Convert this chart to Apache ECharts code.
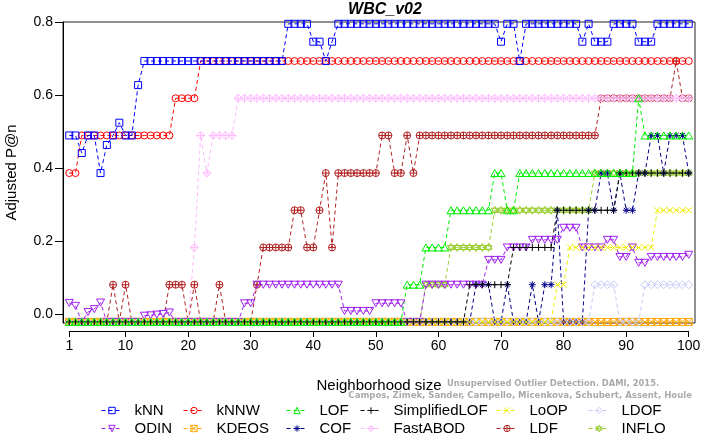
<!DOCTYPE html>
<html><head><meta charset="utf-8">
<script src="https://cdn.jsdelivr.net/npm/echarts@6/dist/echarts.min.js"></script>
<style>html,body{margin:0;padding:0;background:#fff}#c{width:702px;height:434px}</style>
</head><body><div id="c"></div>
<script>
const neighborhood = [1,2,3,4,5,6,7,8,9,10,11,12,13,14,15,16,17,18,19,20,21,22,23,24,25,26,27,28,29,30,
31,32,33,34,35,36,37,38,39,40,41,42,43,44,45,46,47,48,49,50,51,52,53,54,55,56,57,58,59,60,
61,62,63,64,65,66,67,68,69,70,71,72,73,74,75,76,77,78,79,80,81,82,83,84,85,86,87,88,89,90,
91,92,93,94,95,96,97,98,99,100];
const xTicks = [1,10,20,30,40,50,60,70,80,90,100];
const yTicks = [0,0.2,0.4,0.6,0.8];

const kNN = [.489,.489,.441,.489,.489,.386,.463,.489,.524,.489,
.489,.627,.693,.693,.693,.693,.693,.693,.693,.693,
.693,.693,.693,.693,.693,.693,.693,.693,.693,.693,
.693,.693,.693,.693,.693,.795,.795,.795,.795,.746,
.746,.693,.746,.795,.795,.795,.795,.795,.795,.795,
.795,.795,.795,.795,.795,.795,.795,.795,.795,.795,
.795,.795,.795,.795,.795,.795,.795,.795,.795,.746,
.795,.795,.693,.795,.795,.795,.795,.795,.795,.795,
.795,.795,.746,.795,.746,.746,.746,.795,.795,.795,
.795,.746,.746,.746,.795,.795,.795,.795,.795,.795];
const kNNW = [.386,.386,.489,.489,.489,.489,.489,.489,.489,.489,
.489,.489,.489,.489,.489,.489,.489,.591,.591,.591,
.591,.693,.693,.693,.693,.693,.693,.693,.693,.693,
.693,.693,.693,.693,.693,.693,.693,.693,.693,.693,
.693,.693,.693,.693,.693,.693,.693,.693,.693,.693,
.693,.693,.693,.693,.693,.693,.693,.693,.693,.693,
.693,.693,.693,.693,.693,.693,.693,.693,.693,.693,
.693,.693,.693,.693,.693,.693,.693,.693,.693,.693,
.693,.693,.693,.693,.693,.693,.693,.693,.693,.693,
.693,.693,.693,.693,.693,.693,.693,.693,.693,.693];
const LOF = [-.022,-.022,-.022,-.022,-.022,-.022,-.022,-.022,-.022,-.022,
-.022,-.022,-.022,-.022,-.022,-.022,-.022,-.022,-.022,-.022,
-.022,-.022,-.022,-.022,-.022,-.022,-.022,-.022,-.022,-.022,
-.022,-.022,-.022,-.022,-.022,-.022,-.022,-.022,-.022,-.022,
-.022,-.022,-.022,-.022,-.022,-.022,-.022,-.022,-.022,-.022,
-.022,-.022,-.022,-.022,.080,.080,.080,.182,.182,.182,
.182,.284,.284,.284,.284,.284,.284,.284,.386,.386,
.284,.284,.386,.386,.386,.386,.386,.386,.386,.386,
.386,.386,.386,.386,.386,.386,.386,.386,.386,.386,
.386,.591,.489,.489,.489,.489,.489,.489,.489,.489];
const SimplifiedLOF = [-.022,-.022,-.022,-.022,-.022,-.022,-.022,-.022,-.022,-.022,
-.022,-.022,-.022,-.022,-.022,-.022,-.022,-.022,-.022,-.022,
-.022,-.022,-.022,-.022,-.022,-.022,-.022,-.022,-.022,-.022,
-.022,-.022,-.022,-.022,-.022,-.022,-.022,-.022,-.022,-.022,
-.022,-.022,-.022,-.022,-.022,-.022,-.022,-.022,-.022,-.022,
-.022,-.022,-.022,-.022,-.022,-.022,-.022,-.022,-.022,-.022,
-.022,-.022,-.022,-.022,.080,.080,.080,.080,.080,.080,
.080,.182,.182,.182,.182,.182,.182,.182,.284,.284,
.284,.284,.284,.284,.284,.284,.284,.284,.386,.386,
.386,.386,.386,.386,.386,.386,.386,.386,.386,.386];
const LoOP = [-.022,-.022,-.022,-.022,-.022,-.022,-.022,-.022,-.022,-.022,
-.022,-.022,-.022,-.022,-.022,-.022,-.022,-.022,-.022,-.022,
-.022,-.022,-.022,-.022,-.022,-.022,-.022,-.022,-.022,-.022,
-.022,-.022,-.022,-.022,-.022,-.022,-.022,-.022,-.022,-.022,
-.022,-.022,-.022,-.022,-.022,-.022,-.022,-.022,-.022,-.022,
-.022,-.022,-.022,-.022,-.022,-.022,-.022,-.022,-.022,-.022,
-.022,-.022,-.022,-.022,-.022,-.022,-.022,-.022,-.022,-.022,
-.022,-.022,-.022,-.022,-.022,-.022,-.022,-.022,.080,.080,
.182,.182,.182,.182,.182,.182,.182,.182,.182,.182,
.182,.182,.182,.182,.284,.284,.284,.284,.284,.284];
const LDOF = [-.022,-.022,-.022,-.022,-.022,-.022,-.022,-.022,-.022,-.022,
-.022,-.022,-.022,-.022,-.022,-.022,-.022,-.022,-.022,-.022,
-.022,-.022,-.022,-.022,-.022,-.022,-.022,-.022,-.022,-.022,
-.022,-.022,-.022,-.022,-.022,-.022,-.022,-.022,-.022,-.022,
-.022,-.022,-.022,-.022,-.022,-.022,-.022,-.022,-.022,-.022,
-.022,-.022,-.022,-.022,-.022,-.022,-.022,-.022,-.022,-.022,
-.022,-.022,-.022,-.022,-.022,-.022,-.022,-.022,-.022,-.022,
-.022,-.022,-.022,-.022,-.022,-.022,-.022,-.022,-.022,-.022,
-.022,-.022,-.022,-.022,.080,.080,.080,.080,-.022,-.022,
-.022,-.022,.080,.080,.080,.080,.080,.080,.080,.080];
const ODIN = [.030,.022,-.022,.005,.013,.031,-.022,-.022,-.022,-.022,
-.022,-.022,-.005,-.004,-.002,.000,.004,-.022,-.022,-.022,
-.022,-.022,-.022,-.022,-.022,-.022,-.022,-.022,.029,.029,
.080,.080,.080,.080,.080,.080,.080,.080,.080,.080,
.080,.080,.080,.080,.008,.008,.008,.008,.008,.029,
.029,.029,.029,.029,-.022,-.022,-.022,.080,.080,.080,
.080,.080,.080,.080,.080,.080,.080,.148,.148,.148,
.182,.182,.182,.182,.203,.203,.203,.203,.203,.236,
.236,.236,.182,.182,.182,.182,.203,.203,.156,.156,
.182,.140,.140,.156,.156,.156,.156,.156,.156,.162];
const KDEOS = [-.022,-.022,-.022,-.022,-.022,-.022,-.022,-.022,-.022,-.022,
-.022,-.022,-.022,-.022,-.022,-.022,-.022,-.022,-.022,-.022,
-.022,-.022,-.022,-.022,-.022,-.022,-.022,-.022,-.022,-.022,
-.022,-.022,-.022,-.022,-.022,-.022,-.022,-.022,-.022,-.022,
-.022,-.022,-.022,-.022,-.022,-.022,-.022,-.022,-.022,-.022,
-.022,-.022,-.022,-.022,-.022,-.022,-.022,-.022,-.022,-.022,
-.022,-.022,-.022,-.022,-.022,-.022,-.022,-.022,-.022,-.022,
-.022,-.022,-.022,-.022,-.022,-.022,-.022,-.022,-.022,-.022,
-.022,-.022,-.022,-.022,-.022,-.022,-.022,-.022,-.022,-.022,
-.022,-.022,-.022,-.022,-.022,-.022,-.022,-.022,-.022,-.022];
const COF = [-.022,-.022,-.022,-.022,-.022,-.022,-.022,-.022,-.022,-.022,
-.022,-.022,-.022,-.022,-.022,-.022,-.022,-.022,-.022,-.022,
-.022,-.022,-.022,-.022,-.022,-.022,-.022,-.022,-.022,-.022,
-.022,-.022,-.022,-.022,-.022,-.022,-.022,-.022,-.022,-.022,
-.022,-.022,-.022,-.022,-.022,-.022,-.022,-.022,-.022,-.022,
-.022,-.022,-.022,-.022,-.022,-.022,-.022,-.022,-.022,-.022,
-.022,-.022,-.022,-.022,-.022,.080,.080,.080,-.022,-.022,
.080,-.022,-.022,-.022,.080,-.022,.080,.080,.284,-.022,
-.022,-.022,-.022,.284,.284,.386,.386,.284,.386,.284,
.284,.386,.386,.489,.489,.386,.489,.489,.489,.386];
const FastABOD = [-.022,-.022,-.022,-.022,-.022,-.022,-.022,-.022,-.022,-.022,
-.022,-.022,-.022,-.022,-.022,-.022,-.022,-.022,-.022,-.022,
.182,.489,.386,.489,.489,.489,.489,.591,.591,.591,
.591,.591,.591,.591,.591,.591,.591,.591,.591,.591,
.591,.591,.591,.591,.591,.591,.591,.591,.591,.591,
.591,.591,.591,.591,.591,.591,.591,.591,.591,.591,
.591,.591,.591,.591,.591,.591,.591,.591,.591,.591,
.591,.591,.591,.591,.591,.591,.591,.591,.591,.591,
.591,.591,.591,.591,.591,.591,.591,.591,.591,.591,
.591,.591,.591,.591,.591,.591,.591,.591,.591,.591];
const LDF = [-.022,-.022,-.022,-.022,-.022,-.022,-.022,.080,-.022,.080,
-.022,-.022,-.022,-.022,-.022,-.022,.080,.080,.080,-.022,
.080,-.022,-.022,-.022,.080,-.022,-.022,-.022,-.022,-.022,
.080,.182,.182,.182,.182,.182,.284,.284,.182,.182,
.284,.386,.182,.386,.386,.386,.386,.386,.386,.386,
.489,.489,.386,.386,.489,.386,.489,.489,.489,.489,
.489,.489,.489,.489,.489,.489,.489,.489,.489,.489,
.489,.489,.489,.489,.489,.489,.489,.489,.489,.489,
.489,.489,.489,.489,.489,.591,.591,.591,.591,.591,
.591,.591,.591,.591,.591,.591,.591,.693,.591,.591];
const INFLO = [-.022,-.022,-.022,-.022,-.022,-.022,-.022,-.022,-.022,-.022,
-.022,-.022,-.022,-.022,-.022,-.022,-.022,-.022,-.022,-.022,
-.022,-.022,-.022,-.022,-.022,-.022,-.022,-.022,-.022,-.022,
-.022,-.022,-.022,-.022,-.022,-.022,-.022,-.022,-.022,-.022,
-.022,-.022,-.022,-.022,-.022,-.022,-.022,-.022,-.022,-.022,
-.022,-.022,-.022,-.022,-.022,-.022,-.022,.080,.080,.080,
.080,.182,.182,.182,.182,.182,.182,.182,.284,.284,
.284,.284,.284,.284,.284,.284,.284,.284,.284,.284,
.284,.284,.284,.284,.386,.386,.386,.386,.386,.386,
.386,.386,.386,.386,.386,.386,.386,.386,.386,.386];

const methodNames = ['kNN','kNNW','LOF','SimplifiedLOF','LoOP','LDOF','ODIN','KDEOS','COF','FastABOD','LDF','INFLO'];
const methodValues = [kNN,kNNW,LOF,SimplifiedLOF,LoOP,LDOF,ODIN,KDEOS,COF,FastABOD,LDF,INFLO];
const methodColors = ['#0000ff','#ff0000','#00ee00','#000000','#eeee00','#c8c8f8','#a020f0','#ffa500','#00008b','#ffbbff','#b22222','#9acd32'];

const circ = 'M8,4A4,4,0,1,1,0,4A4,4,0,1,1,8,4Z';
const methodSymbols = [
  'path://M0,0H7V7H0Z',
  'path://' + circ,
  'path://M4,0L8,7L0,7Z',
  'path://M4,0V8M0,4H8',
  'path://M0,0L7,7M7,0L0,7',
  'path://M4,0L8,4L4,8L0,4Z',
  'path://M0,0H8L4,7Z',
  'path://M0,0H7V7H0ZM0,0L7,7M7,0L0,7',
  'path://M4,0V8M0,4H8M1.2,1.2L6.8,6.8M6.8,1.2L1.2,6.8',
  'path://M4,0L8,4L4,8L0,4ZM4,0V8M0,4H8',
  'path://' + circ + 'M4,0V8M0,4H8',
  'path://M4,0L7.5,6H0.5ZM4,8L0.5,2H7.5Z'
];
const methodSizes = [7,7,8,7,6,8,8,7,7,8,7,8];

const legendCols = [['kNN','ODIN'],['kNNW','KDEOS'],['LOF','COF'],['SimplifiedLOF','FastABOD'],['LoOP','LDF'],['LDOF','INFLO']];
const legendLeft = [101,183,286,360,496,588];
const legendTop = [403,421];

const series = [];
for (let i = methodNames.length - 1; i >= 0; i--) {
  const c = methodColors[i];
  series.push({
    name: methodNames[i], type: 'line', xAxisIndex: 0, yAxisIndex: 0,
    data: neighborhood.map((k, j) => [k, methodValues[i][j]]),
    symbol: methodSymbols[i], symbolSize: methodSizes[i], symbolKeepAspect: true,
    showAllSymbol: true, clip: false,
    lineStyle: { color: c, width: 1, type: [4, 3] },
    itemStyle: { color: 'none', borderColor: c, borderWidth: 1 },
    emphasis: { disabled: true }, animation: false
  });
}

const legends = [];
legendCols.forEach((col, ci) => col.forEach((n, ri) => {
  const c = methodColors[methodNames.indexOf(n)];
  legends.push({
    data: [n],
    itemStyle: { color: 'rgba(0,0,0,0)', borderColor: c, borderWidth: 1 },
    lineStyle: { color: c, width: 1, type: [4, 3] },
    left: legendLeft[ci], top: legendTop[ri], itemWidth: 21, itemHeight: 8,
    selectedMode: false, padding: 0,
    textStyle: { fontSize: 15, fontFamily: 'Liberation Sans', color: '#000', padding: [0,0,0,7] }
  });
}));

const chart = echarts.init(document.getElementById('c'), null, { renderer: 'canvas' });
chart.setOption({
  animation: false,
  backgroundColor: '#fff',
  title: { text: 'WBC_v02', left: 380, top: -3, textAlign: 'center',
    textStyle: { fontSize: 16, fontWeight: 'bold', fontStyle: 'italic', fontFamily: 'Liberation Sans', color: '#000' } },
  grid: [
    { left: 63, top: 22, right: 7, bottom: 111, show: true, borderColor: '#222', borderWidth: 1, backgroundColor: 'transparent', outerBoundsMode: 'none', containLabel: false },
    { left: 69.3, top: 22, right: 13.3, bottom: 111, outerBoundsMode: 'none', containLabel: false }
  ],
  xAxis: [
    { gridIndex: 0, type: 'value', min: 0, max: 101, show: false },
    { gridIndex: 1, type: 'value', min: 1, max: 100, offset: 8,
      axisLine: { show: true, onZero: false, lineStyle: { color: '#000', width: 1 } },
      axisTick: { show: true, customValues: xTicks, length: 6, lineStyle: { color: '#000' } },
      axisLabel: { customValues: xTicks, fontSize: 14, fontFamily: 'Liberation Sans', color: '#000', margin: 8 },
      splitLine: { show: false },
      name: 'Neighborhood size', nameLocation: 'middle', nameGap: 47,
      nameTextStyle: { fontSize: 15, fontFamily: 'Liberation Sans', color: '#000' } }
  ],
  yAxis: [
    { gridIndex: 0, type: 'value', min: -0.025, max: 0.8,
      axisLine: { show: true, onZero: false, lineStyle: { color: '#000', width: 1 } },
      axisTick: { show: true, customValues: yTicks, length: 8, lineStyle: { color: '#000' } },
      axisLabel: { customValues: yTicks, formatter: v => v.toFixed(1), fontSize: 14, fontFamily: 'Liberation Sans', color: '#000', margin: 10 },
      splitLine: { show: false },
      name: 'Adjusted P@n', nameLocation: 'middle', nameGap: 44,
      nameTextStyle: { fontSize: 15, fontFamily: 'Liberation Sans', color: '#000' } },
    { gridIndex: 1, type: 'value', min: 0, max: 1, show: false }
  ],
  legend: legends,
  graphic: [
    { type: 'text', left: 447, top: 379, z: -1,
      style: { text: 'Unsupervised Outlier Detection. DAMI, 2015.', fill: '#aaaaaa', font: 'bold 9.3px "DejaVu Sans Condensed", "DejaVu Sans"' } },
    { type: 'text', right: 10, top: 391, z: -1,
      style: { text: 'Campos, Zimek, Sander, Campello, Micenkova, Schubert, Assent, Houle', fill: '#aaaaaa', font: 'bold 9.5px "DejaVu Sans Condensed", "DejaVu Sans"' } }
  ],
  series: series
});
</script></body></html>
